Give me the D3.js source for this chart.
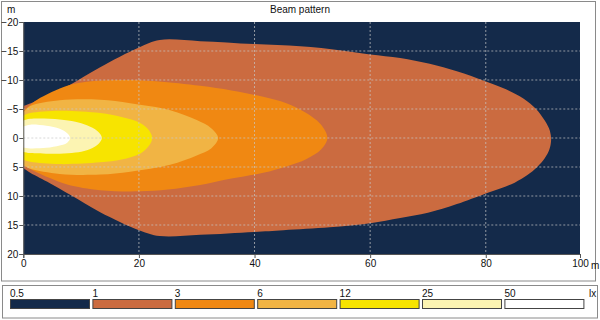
<!DOCTYPE html>
<html><head><meta charset="utf-8">
<script src="https://cdn.jsdelivr.net/npm/d3@7"></script>
<style>
html,body{margin:0;padding:0;background:#fff;}
svg{display:block;font-family:"Liberation Sans",Arial,sans-serif;}
</style></head>
<body><svg id="c" width="600" height="320"></svg>
<script>
// ---- data ----
const title = "Beam pattern";
const legendLevels = ["0.5","1","3","6","12","25","50"];
const legendColors = ["#142a4a","#cb6b40","#f08812","#f1b444","#f7e400","#fcf4b2","#ffffff"];
const legendUnit = "lx";
const xTickValues = [0,20,40,60,80,96.3];
const xTickLabels = ["0","20","40","60","80","100"];
const yTickValues = [-20,-15,-10,-5,0,5,10,15,20];
const xGrid = [20,40,60,80];
const yGrid = [-15,-10,-5,0,5,10,15];
// isolux contours [x (m), y (m)]
const contour1 = [[-1,-5.3],[0,-5.5],[4.6,-7.4],[8.1,-9.2],[13.3,-12.2],[20,-15.6],[23.6,-16.9],[30.6,-16.7],[39.9,-16.2],[47.9,-15.8],[55,-15.1],[60,-14.4],[65.2,-13.8],[70.3,-12.8],[75,-11.5],[79.9,-9.8],[83.5,-8.4],[86.5,-6.8],[88.7,-5.0],[90.2,-3.0],[91.1,-1.2],[91.3,0.4],[91.0,2.0],[90.2,3.5],[88.9,5.0],[87.2,6.4],[85,7.7],[82.5,8.7],[79.9,9.6],[75,11.4],[70,12.9],[65.2,13.8],[60,14.7],[53,15.4],[45,15.9],[39.9,16.2],[30.6,16.7],[23.6,16.9],[20,15.9],[13.3,12.8],[8.1,9.8],[4.6,7.8],[1.2,6.0],[0,5.2],[-1,5.0]];
const contour3 = [[-1,-4.6],[0,-4.8],[2.4,-6.6],[7.6,-9.0],[11,-9.7],[16.2,-10.0],[23,-9.8],[30.6,-9.0],[36,-8.2],[41.5,-7.1],[45.5,-6.0],[48.8,-4.4],[51.4,-2.4],[52.6,0],[51.5,2.0],[49,3.6],[45.5,4.9],[41.5,6.0],[36,7.0],[30.6,8.1],[25,8.9],[20.2,9.2],[13.3,9.0],[7.6,8.0],[4.6,6.9],[1.5,5.5],[0,4.7],[-1,4.5]];
const contour6 = [[-1,-4.3],[0,-4.5],[1.2,-5.5],[6.3,-6.5],[13.3,-6.6],[18.5,-6.0],[25.4,-4.8],[30,-3.1],[32.5,-1.7],[33.7,0],[32.5,1.8],[30,3.0],[25.4,4.6],[18.5,5.8],[13.3,6.3],[6.3,6.2],[1.2,5.3],[0,4.8],[-1,4.6]];
const contour12 = [[-1,-3.8],[0,-3.9],[1.2,-4.3],[6.3,-4.7],[13.3,-4.3],[17,-3.6],[20.2,-2.6],[21.7,-1.4],[22.3,0],[21.7,1.4],[20.2,2.7],[17,3.7],[13.3,4.2],[6.3,4.5],[1.2,4.1],[0,3.8],[-1,3.7]];
const contour25 = [[-1,-2.9],[0,-3.0],[1.2,-3.3],[6.3,-3.2],[9,-2.8],[11,-2.2],[12.8,-1.2],[13.6,0],[12.8,1.2],[11,2.1],[9,2.5],[6.3,2.7],[1.2,2.6],[0,2.4],[-1,2.3]];
const contour50 = [[-1,-1.9],[0,-2.0],[1.2,-2.3],[4,-2.1],[6.3,-1.6],[7.6,-0.8],[8.1,0],[7.6,0.8],[6.3,1.3],[4,1.7],[1.2,1.8],[0,1.7],[-1,1.6]];
const contours = [contour1, contour3, contour6, contour12, contour25, contour50];

// ---- drawing ----
const svg = d3.select("#c");
const x = d3.scaleLinear().domain([0,96.3]).range([23.3,580]);
const y = d3.scaleLinear().domain([-20,20]).range([22,254]);

// panels
svg.append("rect").attr("x",1.5).attr("y",1.5).attr("width",594).attr("height",279.5)
  .attr("fill","#fff").attr("stroke","#8a8a8a");
svg.append("rect").attr("x",2.5).attr("y",285.5).attr("width",595).attr("height",32.5)
  .attr("fill","#fff").attr("stroke","#8a8a8a");

svg.append("text").attr("x",300).attr("y",13).attr("text-anchor","middle")
  .attr("font-size",10).attr("fill","#111").text(title);

const defs = svg.append("defs");
defs.append("clipPath").attr("id","pc").append("rect")
  .attr("x",x(0)).attr("y",y(-20)).attr("width",x(96.3)-x(0)).attr("height",y(20)-y(-20));

const plot = svg.append("g").attr("clip-path","url(#pc)");
plot.append("rect").attr("x",x(0)).attr("y",y(-20)).attr("width",x(96.3)-x(0)).attr("height",y(20)-y(-20))
  .attr("fill",legendColors[0]);

const line = d3.line().x(d=>x(d[0])).y(d=>y(d[1])).curve(d3.curveCatmullRomClosed.alpha(0.5));
plot.selectAll("path.iso").data(contours).join("path").attr("class","iso")
  .attr("d",line).attr("fill",(d,i)=>legendColors[i+1]);

// grid
plot.selectAll("line.gx").data(xGrid).join("line").attr("class","gx")
  .attr("x1",d=>x(d)).attr("x2",d=>x(d)).attr("y1",y(-20)).attr("y2",y(20))
  .attr("stroke","#c8c8c8").attr("stroke-opacity",0.7).attr("stroke-dasharray","2,2");
plot.selectAll("line.gy").data(yGrid).join("line").attr("class","gy")
  .attr("y1",d=>y(d)).attr("y2",d=>y(d)).attr("x1",x(0)).attr("x2",x(96.3))
  .attr("stroke","#c8c8c8").attr("stroke-opacity",0.7).attr("stroke-dasharray","2,2");

// axes
const yAxis = d3.axisLeft(y).tickValues(yTickValues).tickSize(4).tickPadding(1);
const gy = svg.append("g").attr("transform",`translate(${x(0)},0)`).call(yAxis);
const xAxis = d3.axisBottom(x).tickValues(xTickValues).tickSize(4).tickPadding(2)
  .tickFormat((d,i)=>xTickLabels[i]);
const gx = svg.append("g").attr("transform",`translate(0,${y(20)})`).call(xAxis);
[gx,gy].forEach(g=>{
  g.select(".domain").attr("stroke","#555");
  g.selectAll(".tick line").attr("stroke","#555");
  g.selectAll("text").attr("font-size",10).attr("fill","#111")
    .attr("font-family",'"Liberation Sans",Arial,sans-serif');
});
svg.append("text").attr("x",7).attr("y",13).attr("font-size",10).attr("fill","#111").text("m");
svg.append("text").attr("x",591).attr("y",y(20)+15).attr("font-size",10).attr("fill","#111").text("m");

// legend
const lg = svg.append("g");
const lx = d3.scaleLinear().domain([0,1]).range([10,92.4]);
lg.selectAll("rect").data(legendColors).join("rect")
  .attr("x",(d,i)=>lx(i)+0.5).attr("y",299.5).attr("width",79).attr("height",9)
  .attr("fill",d=>d).attr("stroke","#444");
lg.selectAll("text").data(legendLevels).join("text")
  .attr("x",(d,i)=>lx(i)).attr("y",297).attr("font-size",10).attr("fill","#111").text(d=>d);
lg.append("text").attr("x",589).attr("y",297).attr("font-size",10).attr("fill","#111").text(legendUnit);
</script></body></html>
